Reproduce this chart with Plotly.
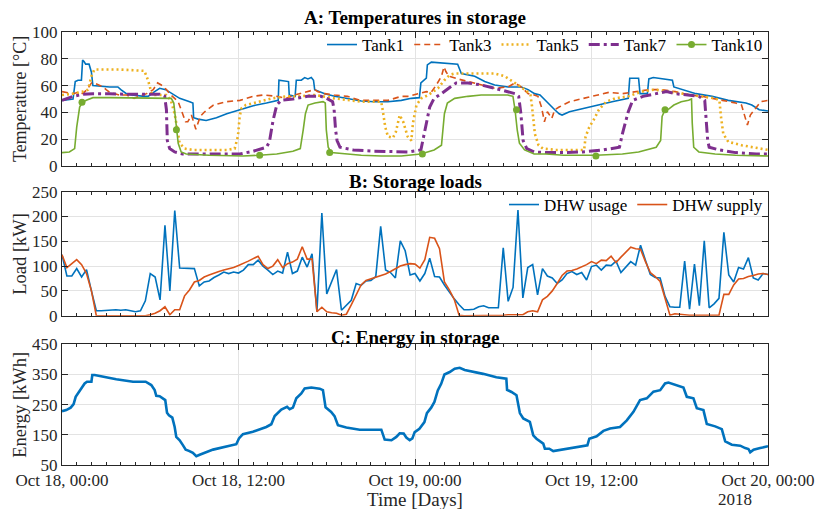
import numpy as np
import pandas as pd
import plotly.graph_objects as go

T0 = pd.Timestamp("2018-10-18 00:00")

def tt(hours):
    return T0 + pd.to_timedelta(np.asarray(hours, dtype=float), unit="h")

# ---------------- Panel A: temperatures (hours, degC) ----------------
tank1_h = [0, 0.5, 0.75, 0.9, 1.09, 1.32, 1.4, 1.5, 1.61, 1.84, 2.0, 2.1, 2.56, 3.24, 3.8, 4.0, 4.38, 4.72, 5.62, 5.85,
           6.3, 6.64, 7.05, 7.33, 8.0, 8.68, 8.9, 8.95, 9.25, 9.8, 10.5, 11.2, 12.1, 13.0, 13.9, 14.7, 14.75, 15.4, 15.45,
           15.85, 15.93, 16.27, 16.5, 16.72, 16.95, 17.1, 17.18, 17.52, 17.86, 18.54, 19.44, 20.35, 21.25, 22.16, 23.07,
           23.75, 24.3, 24.4, 24.77, 24.84, 25.11, 25.8, 26.9, 27.15, 28.06, 28.74, 29.42, 30.33, 31.23, 31.69, 32.13,
           32.5, 32.93, 33.2, 33.5, 33.8, 34.0, 34.5, 35.4, 36.3, 37.4, 38.5, 38.6, 39.2, 39.3, 39.8, 39.9, 40.2, 40.8,
           41.5, 41.6, 42.2, 43.1, 44.2, 45.3, 46.5, 46.9, 47.4, 48]
tank1_T = [49, 49.5, 50, 63, 64, 64, 79, 78, 76, 76, 70, 60, 59.5, 59, 59, 57, 54, 53, 52, 52,
           55.5, 58, 57, 55, 50.5, 48, 47, 36, 35, 34, 36, 39, 42, 45, 47, 49, 64, 63, 53,
           52, 64, 64, 66, 65, 66, 64, 57, 55.5, 54, 52, 50, 48.5, 48, 48, 49,
           50.5, 51, 62, 65.5, 75.5, 77.5, 77, 76, 69, 67, 63, 60.5, 59, 59, 57, 54,
           53, 48, 45.5, 42, 39, 38, 40.5, 43, 45.5, 48, 50.5, 65.5, 65.5, 54, 54, 65, 66, 65,
           64, 59, 57, 54, 52, 49, 47, 45.5, 42, 41]

tank3_h = [0, 0.3, 0.75, 1.1, 1.43, 1.77, 2.0, 2.2, 2.45, 2.8, 3.0, 3.24, 3.9, 4.4, 4.9, 5.3, 5.75, 6.2, 6.5, 6.75,
           7.1, 7.4, 7.66, 7.9, 8.2, 8.4, 8.55, 8.8, 9.1, 9.4, 9.7, 10.3, 11.2, 12.1, 13.0, 13.7, 14.6, 15.25, 15.8,
           16.5, 17.18, 17.4, 17.86, 18.5, 19.4, 20.3, 21.25, 22.16, 23.07, 23.6, 24.2, 24.77, 25.1, 25.45, 25.8,
           25.97, 26.1, 26.3, 26.9, 27.6, 28.5, 29.42, 30.33, 30.8, 31.2, 31.7, 32.1, 32.36, 32.6, 32.8, 33.0, 33.3,
           33.5, 33.8, 34.5, 35.4, 36.3, 37.2, 38.1, 39.0, 39.9, 40.8, 41.7, 42.6, 43.5, 44.9, 45.8, 46.2, 46.4,
           46.6, 46.8, 47.1, 47.5, 48]
tank3_T = [55.5, 55, 54, 55, 54, 58, 62, 62, 60.5, 59, 57, 55, 53, 53, 50.5, 52, 54, 57, 62, 60.5,
           57, 53, 50.5, 48, 39, 33, 33, 38, 27.5, 37, 40.5, 45.5, 48, 49, 52, 53, 52, 50.5, 53,
           55, 57, 55.5, 54, 53, 52, 49, 49, 49, 52, 52, 54, 55.5, 55, 60.5, 67,
           74, 70.5, 67, 65, 63, 60.5, 58, 59, 62, 59, 54, 53, 52, 44, 33, 40.5, 35.5,
           42, 44, 48, 50.5, 53, 55, 54, 55.5, 57, 57, 55.5, 53, 52, 49, 47, 45.5, 38,
           30.5, 38, 42, 48, 49]

tank5_h = [0, 0.75, 1.43, 1.77, 2.0, 2.2, 2.8, 3.9, 5.6, 5.85, 6.1, 6.3, 7.1, 7.4, 7.66, 7.82, 8.0, 8.34, 8.9, 10.0,
           11.2, 11.74, 11.96, 12.08, 12.2, 12.5, 13.4, 14.3, 15.25, 16.2, 17.2, 18.5, 20.35, 21.7, 21.8, 21.98,
           22.16, 22.5, 22.7, 22.96, 23.2, 23.5, 23.75, 23.86, 24.1, 24.43, 24.9, 25.56, 26.0, 26.36, 26.7, 27.6,
           28.5, 29.4, 30.1, 30.55, 31.0, 31.7, 31.85, 31.95, 32.05, 32.15, 32.4, 32.7, 33.6, 34.5, 35.5, 35.6,
           35.85, 36.2, 36.5, 37.0, 37.6, 38.5, 39.4, 40.3, 41.2, 42.3, 43.5, 44.4, 44.7, 44.8, 44.96, 45.3, 46.2,
           47.4, 48]
tank5_T = [53, 54, 55.5, 57, 67, 72, 72, 72, 71, 64, 54, 53, 53, 49, 39, 27, 17, 13, 12, 12,
           12, 13, 22, 37, 43, 45.5, 48, 50.5, 52, 52, 53, 50.5, 48, 48, 42, 29,
           22, 21, 25.5, 38, 33, 22, 19, 32, 45.5, 50.5, 53, 58, 64, 68, 69, 69,
           69, 69, 67, 64, 60.5, 55, 53, 45, 35, 24, 15.5, 13, 12, 12, 12, 22,
           29, 35.5, 42, 48, 50.5, 52, 55.5, 57, 55.5, 54, 52, 50.5, 49, 37, 24, 18, 15.5,
           13, 12]

tank7_h = [0, 0.75, 1.43, 2.1, 3.24, 4.38, 5.7, 6.64, 6.98, 7.1, 7.16, 7.32, 7.66, 8.2, 9.36, 10.7, 12.1, 13.0, 13.9,
           14.1, 14.35, 14.6, 14.9, 15.7, 16.7, 17.6, 18.0, 18.4, 18.5, 18.6, 18.7, 18.9, 19.8, 21.2, 22.5, 23.6, 24.4,
           24.5, 24.8, 25.0, 25.3, 25.8, 26.4, 26.8, 27.6, 28.5, 29.4, 30.3, 30.8, 31.05, 31.2, 31.35, 31.6, 32.1,
           32.9, 34.1, 35.4, 36.8, 37.9, 38.1, 38.5, 38.8, 39.5, 40.4, 41.1, 41.7, 42.4, 43.3, 43.7, 43.8, 43.9,
           44.0, 44.7, 45.8, 47.2, 48]
tank7_T = [49, 52, 53.5, 54, 54, 53.5, 53.5, 53.5, 52, 42, 19, 13, 10.5, 9, 9, 9, 9, 11, 14,
           18, 34, 45.5, 49, 50, 52, 52, 50.5, 48, 42, 27, 19, 14, 12, 11, 10.5, 10.5, 12,
           17, 32, 44, 50.5, 54, 59, 62, 62, 60.5, 58, 55.5, 54, 52, 39, 19, 13, 10.5,
           10, 10, 10.5, 12, 14, 24, 40.5, 49, 52, 54, 55.5, 54, 53, 52, 49, 37, 19,
           14, 12, 10, 9, 9]

tank10_h = [0, 0.5, 0.86, 1.0, 1.2, 1.39, 1.65, 2.1, 3.24, 5.5, 6.64, 7.43, 7.6, 7.7, 7.77, 7.9, 8.1, 8.45, 10.0,
            12.3, 13.4, 14.6, 15.7, 16.2, 16.4, 16.55, 16.73, 17.2, 17.75, 17.9, 17.97, 18.1, 18.3, 19.2, 20.35,
            21.7, 23.07, 24.4, 25.3, 25.8, 26.0, 26.2, 26.7, 27.6, 28.5, 29.4, 30.3, 30.66, 30.8, 30.95, 31.1,
            31.45, 32.1, 32.9, 34.1, 36.3, 38.1, 39.2, 40.4, 40.7, 40.8, 41.0, 41.25, 41.6, 42.1, 42.6, 42.8,
            42.85, 42.95, 43.3, 44.4, 45.8, 48]
tank10_T = [10, 10.5, 13, 29, 44, 47.5, 49, 51, 51, 51, 51, 50.5, 47, 37, 27, 17, 10.5, 9, 8,
            7.5, 8, 9, 11, 13, 27, 39, 45.5, 47, 48, 47, 27, 14, 10, 9, 8,
            7.5, 7.5, 9, 12, 15.5, 39, 47, 50.5, 52, 53, 53, 53, 52, 42, 27, 17,
            12, 9, 9, 8, 8, 9, 10.5, 14, 19, 37, 42, 42.5, 45.5, 48, 49, 50,
            32, 14, 10.5, 9, 8, 7.5]
tank10_marker_h = [1.36, 7.78, 13.44, 18.2, 24.5, 30.9, 36.3, 41.0]
tank10_marker_T = [47.5, 27, 8, 10, 9, 42, 7.5, 42]

# ---------------- Panel B: loads, 20-minute samples (kW) ----------------
load_step_h = 1.0 / 3.0
dhw_usage = [123, 80, 80, 95, 78, 93, 50, 10, 10, 11, 11, 12, 11, 12, 10, 8, 10, 30, 85, 78, 32, 182, 50, 212, 96,
             96, 95, 95, 60, 68, 70, 77, 82, 88, 85, 88, 86,
             92, 103, 103, 112, 100, 92, 83, 90, 86, 128, 85, 90, 118, 98, 125, 8, 207, 44, 70, 93, 11, 22, 31, 65,
             61, 70, 71, 79, 180, 92, 87, 76, 151, 131, 82, 85,
             70, 85, 116, 79, 78, 62, 47, 34, 22, 12, 12, 13, 18, 20, 16, 16, 16, 137, 29, 57, 213, 36, 97, 103,
             42, 95, 80, 76, 65, 72, 85, 89, 83, 87, 72, 99, 102, 92, 102, 101, 110, 87, 99, 109, 102, 142, 112, 83,
             77, 76, 39, 18, 17, 17, 110, 13, 104, 20, 151, 16, 24, 35, 168, 82, 68, 97, 94, 117, 76, 72, 85, 83]
dhw_supply = [123, 97, 105, 113, 103, 85, 50, 0, 0, 0, 0, 0, 0, 0, 0, 0, 0, 0, 2, 5, 10, 18, 2, 12, 12,
              40, 52, 68, 71, 78, 82, 86, 89, 92, 94, 97, 101,
              105, 110, 115, 120, 103, 95, 100, 113, 97, 105, 108, 114, 139, 114, 114, 8, 17, 8, 6, 5, 1, 3, 22,
              42, 62, 71, 74, 78, 81, 84, 89, 95, 100, 103, 105, 104,
              96, 113, 158, 156, 135, 68, 52, 33, 1, 0, 0, 0, 0, 0, 0, 0, 0, 1, 2, 2, 2, 2, 8, 10,
              8, 32, 39, 50, 65, 81, 90, 91, 94, 98, 103, 109, 105, 112, 111, 120, 107, 118, 127, 138, 135, 134,
              109, 87, 79, 69, 35, 1, 4, 3, 1, 1, 1, 1, 1, 1, 1, 1, 43, 43, 62, 74, 75, 79, 81, 84, 85, 83]
load_h = np.arange(len(dhw_usage)) * load_step_h

# ---------------- Panel C: energy (hours, kWh) ----------------
energy_h = [0, 0.29, 0.59, 0.79, 0.93, 1.16, 1.31, 1.54, 1.7, 2.0, 2.06, 2.22, 3.69, 4.83, 5.69, 6.07, 6.3, 6.41, 6.64,
            7.02, 7.14, 7.27, 7.5, 7.66, 7.77, 8.0, 8.23, 8.41, 8.63, 8.9, 9.13, 9.36, 10.27, 11.17, 11.85, 12.03,
            12.3, 12.98, 13.89, 14.23, 14.46, 14.91, 15.3, 15.48, 15.7, 15.93, 16.27, 16.5, 16.95, 17.52, 17.74,
            17.92, 18.3, 18.53, 18.76, 19.33, 20.24, 21.71, 21.94, 22.4, 22.73, 22.96, 23.23, 23.41, 23.64, 23.82,
            23.98, 24.3, 24.64, 24.81, 25.1, 25.32, 25.55, 25.78, 26.0, 26.36, 26.7, 27.04, 27.38, 28.63, 29.53,
            30.21, 30.26, 30.56, 30.9, 31.13, 31.36, 31.81, 32.04, 32.26, 32.72, 32.83, 33.13, 33.4, 34.31, 35.22,
            35.72, 35.85, 36.35, 36.81, 37.26, 37.94, 38.4, 38.85, 39.3, 39.76, 40.21, 40.67, 41.0, 41.23, 41.69,
            42.25, 42.48, 42.93, 43.16, 43.61, 43.84, 44.41, 44.86, 45.09, 45.54, 46.11, 46.45, 46.67, 46.79,
            47.02, 47.47, 47.93, 48]
energy_kwh = [228.5, 232, 240, 252, 276, 293, 304, 320, 326, 326, 348, 348, 334, 326, 326, 315, 298, 279, 278,
              265, 223, 215, 207, 176, 143, 132, 115, 101, 97, 90, 79, 84, 101, 110, 119, 138,
              152, 160, 176, 185, 212, 234, 243, 235, 240, 271, 287, 304, 307, 303, 298,
              241, 226, 212, 182, 174, 167, 167, 134, 132, 143, 155, 154, 141, 132, 138,
              159, 170, 192, 222, 240, 259, 297, 319, 350, 358, 369, 372, 365, 352, 341,
              336, 299, 292, 281, 222, 204, 193, 148, 137, 121, 104, 104, 96, 104, 110,
              115, 137, 145, 163, 171, 176, 198, 226, 265, 271, 293, 298, 320, 323, 315,
              307, 276, 271, 238, 232, 186, 178, 169, 128, 117, 114, 106, 103, 92,
              101, 106, 112, 112]

# ---------------- axis ticks ----------------
xtick_h = [0, 12, 24, 36, 48]
xtick_text = ["Oct 18, 00:00", "Oct 18, 12:00", "Oct 19, 00:00", "Oct 19, 12:00", "Oct 20, 00:00"]
ytickA = [0, 20, 40, 60, 80, 100]
ytickB = [0, 50, 100, 150, 200, 250]
ytickC = [50, 150, 250, 350, 450]

BLUE, ORANGE, YELLOW, PURPLE, GREEN = "#0072BD", "#D95319", "#EDB120", "#7E2F8E", "#77AC30"
FONT = "Liberation Serif"
AX = "#262626"

fig = go.Figure()
# Panel A
fig.add_trace(go.Scatter(x=tt(tank1_h), y=tank1_T, mode="lines", name="Tank1",
                         line=dict(color=BLUE, width=1.6), xaxis="x", yaxis="y", legend="legend"))
fig.add_trace(go.Scatter(x=tt(tank3_h), y=tank3_T, mode="lines", name="Tank3",
                         line=dict(color=ORANGE, width=1.6, dash="6px,4px"), xaxis="x", yaxis="y", legend="legend"))
fig.add_trace(go.Scatter(x=tt(tank5_h), y=tank5_T, mode="lines", name="Tank5",
                         line=dict(color=YELLOW, width=2.6, dash="2px,3px"), xaxis="x", yaxis="y", legend="legend"))
fig.add_trace(go.Scatter(x=tt(tank7_h), y=tank7_T, mode="lines", name="Tank7",
                         line=dict(color=PURPLE, width=3, dash="11px,4px,3px,4px"), xaxis="x", yaxis="y", legend="legend"))
fig.add_trace(go.Scatter(x=tt(tank10_h), y=tank10_T, mode="lines", name="Tank10", showlegend=False,
                         line=dict(color=GREEN, width=1.6), xaxis="x", yaxis="y", legend="legend"))
fig.add_trace(go.Scatter(x=tt(tank10_marker_h), y=tank10_marker_T, mode="markers", name="Tank10", showlegend=False,
                         marker=dict(color=GREEN, size=7), xaxis="x", yaxis="y", legend="legend"))
fig.add_trace(go.Scatter(x=[None], y=[None], mode="lines+markers", name="Tank10",
                         line=dict(color=GREEN, width=1.6), marker=dict(color=GREEN, size=7),
                         xaxis="x", yaxis="y", legend="legend"))
# Panel B
fig.add_trace(go.Scatter(x=tt(load_h), y=dhw_usage, mode="lines", name="DHW usage",
                         line=dict(color=BLUE, width=1.6), xaxis="x2", yaxis="y2", legend="legend2"))
fig.add_trace(go.Scatter(x=tt(load_h), y=dhw_supply, mode="lines", name="DHW supply",
                         line=dict(color=ORANGE, width=1.6), xaxis="x2", yaxis="y2", legend="legend2"))
# Panel C
fig.add_trace(go.Scatter(x=tt(energy_h), y=energy_kwh, mode="lines", name="Energy", showlegend=False,
                         line=dict(color=BLUE, width=2.6), xaxis="x3", yaxis="y3"))

xrange = [T0, T0 + pd.Timedelta(hours=48)]
tickfont = dict(family=FONT, size=17, color=AX)

def xaxis(anchor, labels):
    return dict(anchor=anchor, domain=[0, 1], range=xrange, type="date",
                tickmode="array", tickvals=list(tt(xtick_h)), ticktext=xtick_text,
                showticklabels=labels, ticks="inside", ticklen=6, tickcolor=AX, tickwidth=1,
                showline=True, linecolor=AX, linewidth=1, mirror="ticks",
                showgrid=True, gridcolor="#E3E3E3", gridwidth=1, zeroline=False,
                minor=dict(tickmode="linear", tick0=T0, dtick=3600000, ticks="inside", ticklen=3,
                           tickcolor=AX, showgrid=False),
                tickfont=tickfont, automargin=False)

def yaxis(anchor, dom, rng, vals):
    return dict(anchor=anchor, domain=dom, range=rng, tickmode="array", tickvals=vals,
                ticks="inside", ticklen=6, tickcolor=AX, tickwidth=1,
                showline=True, linecolor=AX, linewidth=1, mirror="ticks",
                showgrid=True, gridcolor="#E3E3E3", gridwidth=1, zeroline=False,
                tickfont=tickfont, automargin=False)

ann = []
def text(x, y, s, size=17, bold=False, angle=0, xanchor="center", yanchor="middle", color="#000000"):
    ann.append(dict(xref="paper", yref="paper", x=x, y=y, text=("<b>%s</b>" % s) if bold else s,
                    showarrow=False, textangle=angle, xanchor=xanchor, yanchor=yanchor,
                    font=dict(family=FONT, size=size, color=color)))

text(0.5, 1.0346, "A: Temperatures in storage", size=19, bold=True)
text(0.5, 0.6536, "B: Storage loads", size=19, bold=True)
text(0.5, 0.2956, "C: Energy in storage", size=19, bold=True)
text(-0.0595, 0.845, "Temperature [°C]", size=18, angle=-90, color=AX)
text(-0.0595, 0.488, "Load [kW]", size=18.5, angle=-90, color=AX)
text(-0.0595, 0.139, "Energy [kWh]", size=18.5, angle=-90, color=AX)
text(0.5, -0.079, "Time [Days]", size=19, color=AX)
text(0.926, -0.079, "2018", xanchor="left", color=AX)

fig.update_layout(
    width=816, height=509,
    margin=dict(l=62, r=48, t=32, b=44),
    paper_bgcolor="white", plot_bgcolor="white",
    font=dict(family=FONT, size=17, color=AX),
    xaxis=xaxis("y", False), xaxis2=xaxis("y2", False), xaxis3=xaxis("y3", True),
    yaxis=yaxis("x", [0.6905, 1.0], [0, 100], ytickA),
    yaxis2=yaxis("x2", [0.3448, 0.6312], [0, 250], ytickB),
    yaxis3=yaxis("x3", [0.0, 0.2788], [50, 450], ytickC),
    legend=dict(orientation="h", x=1.0, xanchor="right", y=0.97, yanchor="middle",
                bgcolor="rgba(255,255,255,0)", font=dict(family=FONT, size=17, color="#000000"),
                itemwidth=30, tracegroupgap=0),
    legend2=dict(orientation="h", x=1.0, xanchor="right", y=0.6005, yanchor="middle",
                 bgcolor="rgba(255,255,255,0)", font=dict(family=FONT, size=17, color="#000000"),
                 itemwidth=30),
    annotations=ann,
)

fig.write_html("out.html")
